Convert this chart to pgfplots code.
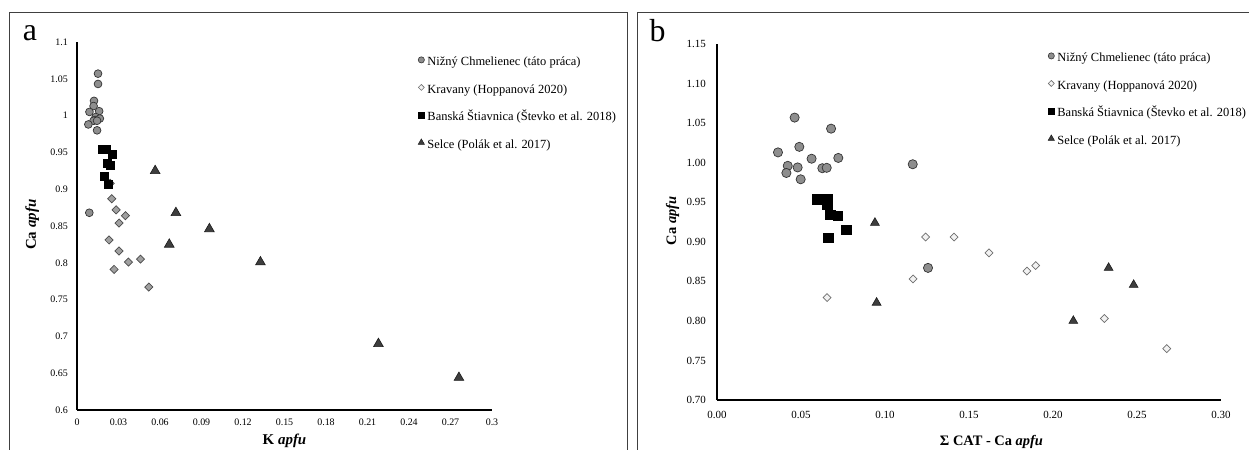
\documentclass[border=0pt]{standalone}
\usepackage{fontspec}
\setmainfont{Liberation Serif}
\usepackage{pgfplots}
\pgfplotsset{compat=1.18}

\definecolor{cfill}{HTML}{8E8E8E}
\definecolor{cedge}{HTML}{333333}
\definecolor{dfillA}{HTML}{A0A0A0}
\definecolor{dedgeA}{HTML}{4A4A4A}
\definecolor{dfillB}{HTML}{F2F2F2}
\definecolor{dedgeB}{HTML}{6E6E6E}
\definecolor{tfill}{HTML}{3E3E3E}
\definecolor{tedge}{HTML}{1A1A1A}
\definecolor{framec}{HTML}{404040}

\pgfplotsset{
  myax/.style={
    scale only axis,
    axis x line*=bottom, axis y line*=left,
    axis line style={line width=1.8bp, black},
    major tick length=0pt,
    scaled ticks=false,
    /pgf/number format/assume math mode=true,
    legend cell align=left,
    legend image code/.code={\draw[##1] plot coordinates {(0bp,3.3bp)};},
  },
}

\begin{document}
\begin{tikzpicture}
\path[use as bounding box] (0bp,0bp) rectangle (1249bp,-450bp);
\clip (0bp,0bp) rectangle (1249bp,-450bp);
\draw[framec, line width=0.9bp] (9bp,-12bp) rectangle (627bp,-470bp);
\draw[framec, line width=0.9bp] (637bp,-12bp) rectangle (1270bp,-470bp);
\node[inner sep=0pt] at (30bp,-33.5bp) {\fontsize{32}{32}\selectfont a};
\node[inner sep=0pt] at (657.5bp,-31bp) {\fontsize{32}{32}\selectfont b};

% ---------------- panel a ----------------
\begin{axis}[myax,
  at={(77bp,-410bp)}, anchor=south west,
  width=415bp, height=368bp,
  xmin=0, xmax=0.3, ymin=0.6, ymax=1.1,
  xtick={0,0.03,0.06,0.09,0.12,0.15,0.18,0.21,0.24,0.27,0.3},
  xticklabels={0,0.03,0.06,0.09,0.12,0.15,0.18,0.21,0.24,0.27,0.3},
  ytick={0.6,0.65,0.7,0.75,0.8,0.85,0.9,0.95,1,1.05,1.1},
  yticklabels={0.6,0.65,0.7,0.75,0.8,0.85,0.9,0.95,1,1.05,1.1},
  tick label style={font=\fontsize{10}{12}\selectfont, inner sep=0pt},
  yticklabel style={xshift=-9bp},
  xticklabel style={yshift=-8.5bp},
  xlabel={\textbf{K \textit{apfu}}},
  ylabel={\textbf{Ca \textit{apfu}}},
  label style={font=\fontsize{15}{18}\selectfont},
  xlabel style={at={(axis description cs:0.5,-0.085)}, anchor=center},
  ylabel style={at={(axis description cs:-0.108,0.5035)}, anchor=center},
  legend style={draw=none, fill=none, at={(0.8217,0.9613)}, anchor=north west,
    font=\fontsize{12.5}{15}\selectfont, row sep=14bp, column sep=2bp, inner sep=0pt,
    nodes={inner sep=1bp, text height=8.5bp, text depth=3bp}},
]
\addlegendimage{mark=*, mark size=3.1bp, draw=cedge, fill=cfill, line width=0.6bp}
\addlegendentry{Nižný Chmelienec (táto práca)}
\addlegendimage{mark=square*, mark options={rotate=45}, mark size=2.1bp, draw=dedgeB, fill=dfillB, line width=0.6bp}
\addlegendentry{Kravany (Hoppanová 2020)}
\addlegendimage{mark=square*, mark size=3bp, draw=black, fill=black}
\addlegendentry{Banská Štiavnica (Števko et al. 2018)}
\addlegendimage{mark=triangle*, mark size=3.6bp, draw=tedge, fill=tfill, line width=0.5bp}
\addlegendentry{Selce (Polák et al. 2017)}

\addplot[only marks, forget plot, mark=*, mark size=3.9bp, mark options={draw=cedge, fill=cfill, line width=0.7bp}]
coordinates {(0.0152,1.057) (0.0152,1.043) (0.0123,1.020) (0.0120,1.013) (0.0160,1.006)
(0.0090,1.005) (0.0135,0.998) (0.0165,0.996) (0.0130,0.994) (0.0120,0.993) (0.0145,0.993)
(0.0082,0.988) (0.0145,0.980) (0.0089,0.868)};

\addplot[only marks, forget plot, mark=square*, mark size=2.9bp, mark options={rotate=45, draw=dedgeA, fill=dfillA, line width=0.7bp}]
coordinates {(0.0240,0.908) (0.0251,0.887) (0.0283,0.872) (0.0350,0.864) (0.0304,0.854)
(0.0232,0.831) (0.0304,0.816) (0.0372,0.801) (0.0459,0.805) (0.0268,0.791) (0.0519,0.767)};

\addplot[only marks, forget plot, mark=square*, mark size=4bp, mark options={draw=black, fill=black}]
coordinates {(0.0180,0.955) (0.0212,0.955) (0.0255,0.947) (0.0218,0.935) (0.0238,0.933)
(0.0196,0.917) (0.0225,0.907)};

\addplot[only marks, forget plot, mark=triangle*, mark size=5.6bp, mark options={draw=tedge, fill=tfill, line width=0.6bp}]
coordinates {(0.0565,0.925) (0.0715,0.868) (0.0957,0.846) (0.0667,0.825) (0.1326,0.801)
(0.2179,0.690) (0.2761,0.644)};
\end{axis}

% ---------------- panel b ----------------
\begin{axis}[myax,
  at={(717bp,-400bp)}, anchor=south west,
  width=504bp, height=356bp,
  xmin=0, xmax=0.3, ymin=0.7, ymax=1.15,
  xtick={0,0.05,0.1,0.15,0.2,0.25,0.3},
  xticklabels={0.00,0.05,0.10,0.15,0.20,0.25,0.30},
  ytick={0.7,0.75,0.8,0.85,0.9,0.95,1,1.05,1.1,1.15},
  yticklabels={0.70,0.75,0.80,0.85,0.90,0.95,1.00,1.05,1.10,1.15},
  tick label style={font=\fontsize{11}{13}\selectfont, inner sep=0pt},
  yticklabel style={xshift=-11bp},
  xticklabel style={yshift=-11bp},
  xlabel={\textbf{Σ CAT - Ca \textit{apfu}}},
  ylabel={\textbf{Ca \textit{apfu}}},
  label style={font=\fontsize{14.5}{17}\selectfont},
  xlabel style={at={(axis description cs:0.5446,-0.117)}, anchor=center},
  ylabel style={at={(axis description cs:-0.0883,0.503)}, anchor=center},
  legend style={draw=none, fill=white, at={(0.6567,0.9768)}, anchor=north west,
    font=\fontsize{12.5}{15}\selectfont, row sep=14bp, column sep=2bp, inner sep=0pt,
    nodes={inner sep=1bp, text height=8.5bp, text depth=3bp}},
]
\addlegendimage{mark=*, mark size=3.1bp, draw=cedge, fill=cfill, line width=0.6bp}
\addlegendentry{Nižný Chmelienec (táto práca)}
\addlegendimage{mark=square*, mark options={rotate=45}, mark size=2.1bp, draw=dedgeB, fill=dfillB, line width=0.6bp}
\addlegendentry{Kravany (Hoppanová 2020)}
\addlegendimage{mark=square*, mark size=3bp, draw=black, fill=black}
\addlegendentry{Banská Štiavnica (Števko et al. 2018)}
\addlegendimage{mark=triangle*, mark size=3.6bp, draw=tedge, fill=tfill, line width=0.5bp}
\addlegendentry{Selce (Polák et al. 2017)}

\addplot[only marks, forget plot, mark=*, mark size=4.6bp, mark options={draw=cedge, fill=cfill, line width=0.7bp}]
coordinates {(0.0462,1.057) (0.0679,1.043) (0.0490,1.020) (0.0363,1.013) (0.0563,1.005)
(0.0722,1.006) (0.0421,0.996) (0.0480,0.994) (0.0627,0.993) (0.0653,0.9935) (0.0413,0.987)
(0.0498,0.979) (0.1165,0.998) (0.1256,0.867)};

\addplot[only marks, forget plot, mark=square*, mark size=2.8bp, mark options={rotate=45, draw=dedgeB, fill=dfillB, line width=0.7bp}]
coordinates {(0.0655,0.8295) (0.1242,0.906) (0.1167,0.853) (0.1411,0.906) (0.1619,0.886)
(0.1845,0.863) (0.1897,0.870) (0.2306,0.803) (0.2677,0.765)};

\addplot[only marks, forget plot, mark=square*, mark size=4.7bp, mark options={draw=black, fill=black}]
coordinates {(0.0597,0.954) (0.0657,0.954) (0.0657,0.947) (0.0673,0.934) (0.0720,0.933)
(0.0768,0.915) (0.0661,0.905)};

\addplot[only marks, forget plot, mark=triangle*, mark size=5.1bp, mark options={draw=tedge, fill=tfill, line width=0.6bp}]
coordinates {(0.0940,0.924) (0.0950,0.823) (0.2331,0.867) (0.2480,0.8455) (0.2121,0.800)};
\end{axis}
\end{tikzpicture}
\end{document}
